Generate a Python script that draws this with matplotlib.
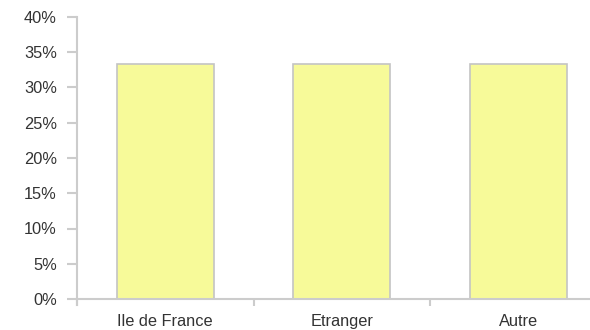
import matplotlib.pyplot as plt

categories = ["Ile de France", "Etranger", "Autre"]
values = [33.33, 33.33, 33.33]
yticks = [0, 5, 10, 15, 20, 25, 30, 35, 40]

plt.rcParams['font.family'] = ['Liberation Sans', 'DejaVu Sans']

fig = plt.figure(figsize=(5.9, 3.3), dpi=100)
W, H = 590, 330
x0, x1 = 77, 606.5
ytop, ybot = 17, 299
ax = fig.add_axes([x0 / W, 1 - ybot / H, (x1 - x0) / W, (ybot - ytop) / H])

grey = '#cccccc'
ax.bar(range(len(categories)), values, width=0.55, color='#f7fa99',
       edgecolor='#c4c4c4', linewidth=1.2)

ax.set_xlim(-0.5, len(categories) - 0.5)
ax.set_ylim(0, 40)
ax.set_yticks(yticks)
ax.set_yticklabels([f"{v}%" for v in yticks])
ax.set_xticks(range(len(categories)))
ax.set_xticklabels(categories)
ax.set_xticks([i - 0.5 for i in range(len(categories) + 1)], minor=True)

for s in ['top', 'right']:
    ax.spines[s].set_visible(False)
for s in ['left', 'bottom']:
    ax.spines[s].set_color(grey)
    ax.spines[s].set_linewidth(1.5)
ax.spines['left'].set_bounds(-0.8, 40)

ax.tick_params(axis='y', length=7, width=1.5, color=grey, pad=7.5,
               labelsize=11.8, labelcolor='#333333')
ax.tick_params(axis='x', which='major', length=0, pad=10.5,
               labelsize=11.8, labelcolor='#333333')
ax.tick_params(axis='x', which='minor', length=5, width=1.5, color=grey)

fig.savefig("out.png", dpi=100)
